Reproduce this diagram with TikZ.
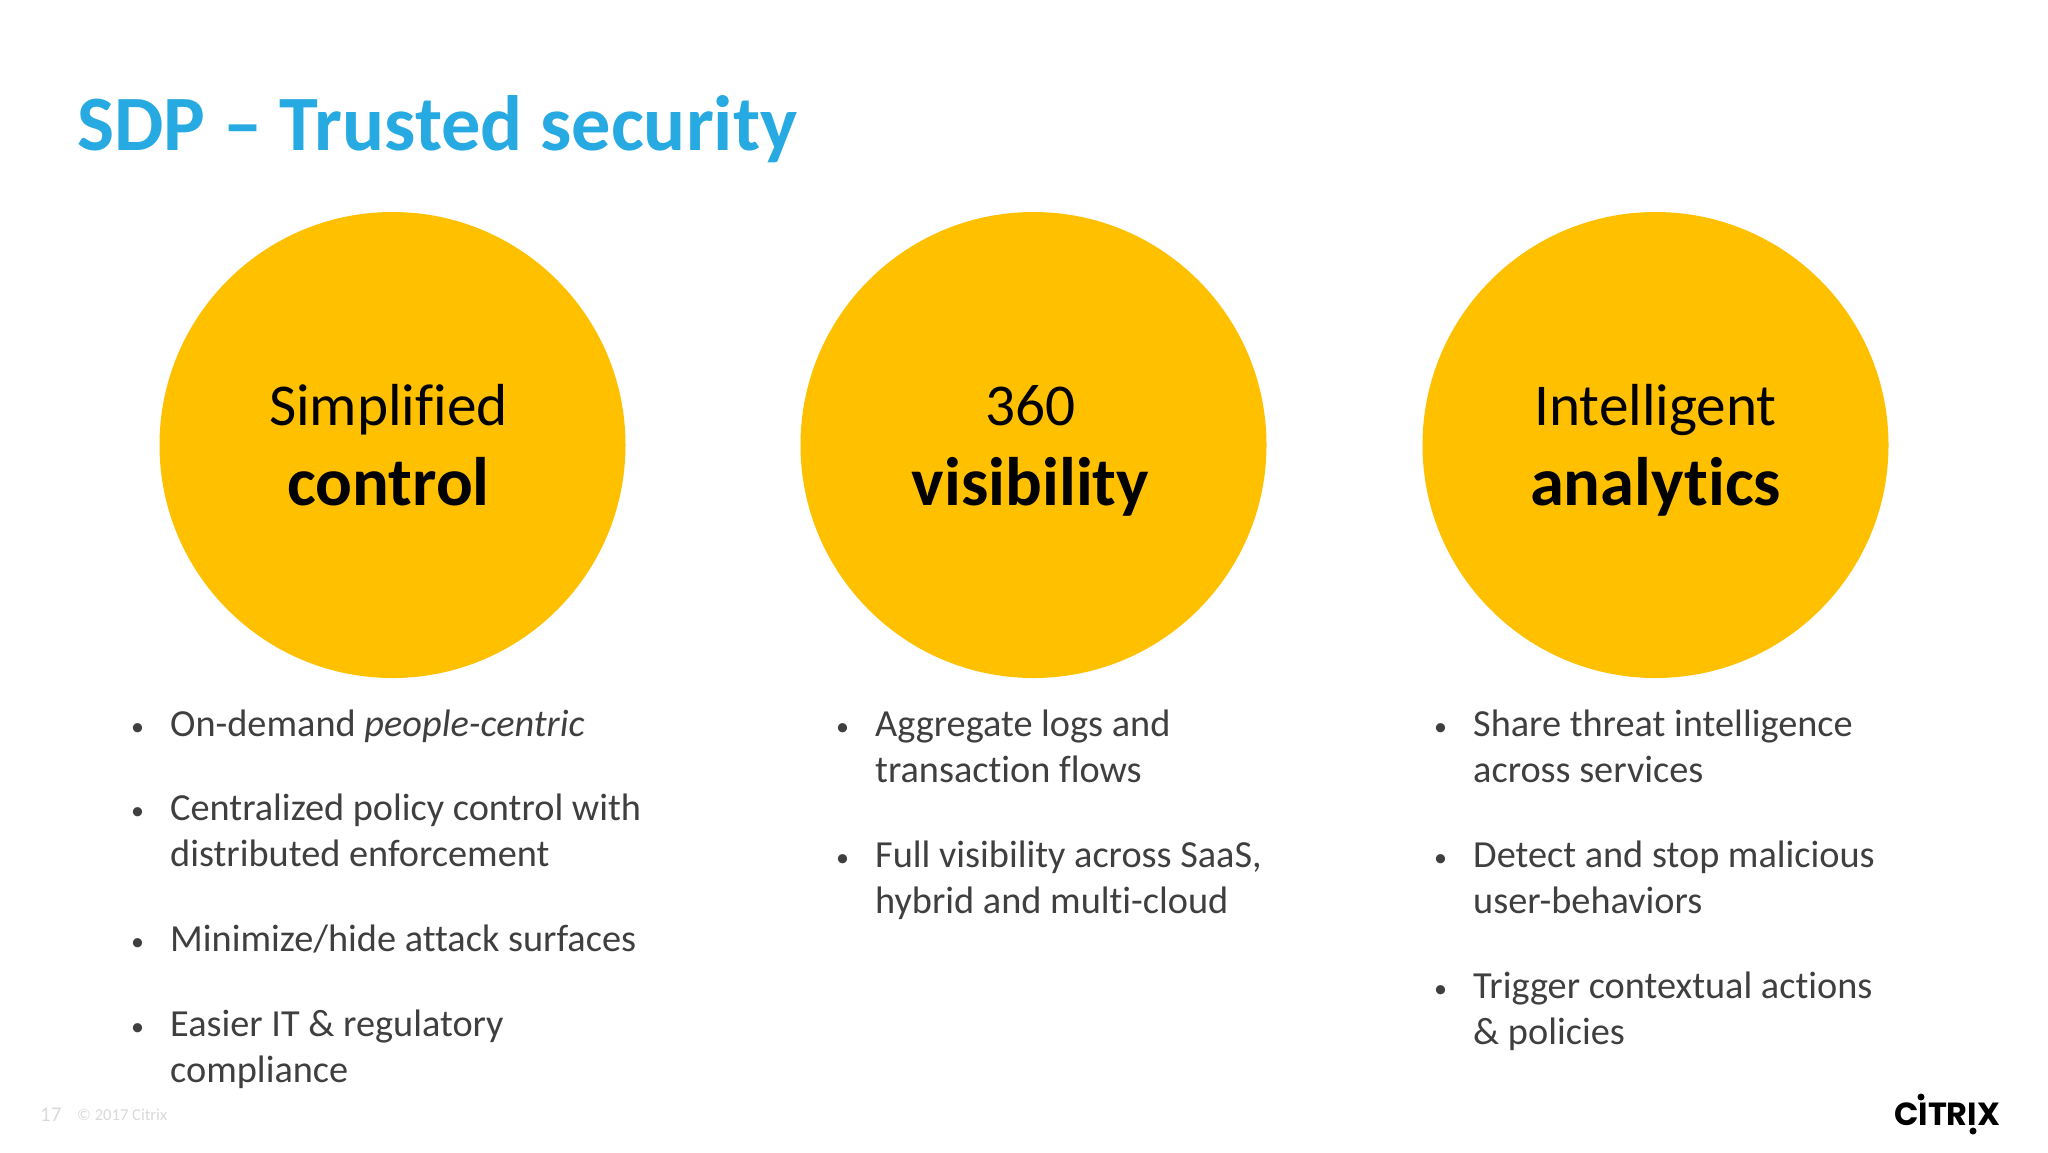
\documentclass[tikz,border=0pt]{standalone}
\usepackage{fontspec}
\setmainfont{Carlito}[Ligatures=NoCommon]
\newfontfamily\logofont{Poppins}
\usetikzlibrary{positioning}
\definecolor{titleblue}{HTML}{27A9E1}
\definecolor{gold}{HTML}{FFC000}
\definecolor{bodygray}{HTML}{3F3F3F}
\definecolor{footgray}{HTML}{D9D9D9}
\newcommand{\dotbox}{\makebox[39pt][l]{\raisebox{1pt}{\fontsize{26}{26}\selectfont •}}}
\newcommand{\nodot}{\hspace*{39pt}}
\tikzset{
    goldcircle/.style = {circle, fill=gold, minimum size=466pt, inner sep=0pt},
    lighttext/.style = {anchor=base, inner sep=0pt, font=\fontsize{59.3}{59}\selectfont},
    boldtext/.style = {anchor=base, inner sep=0pt, font=\fontsize{68.6}{69}\selectfont\bfseries},
    itemtext/.style = {anchor=north west, align=left, inner sep=0pt, text=bodygray, font=\fontsize{38.3}{46}\selectfont},
    footnum/.style = {anchor=base west, inner sep=0pt, text=footgray}
}
\begin{document}
\begin{tikzpicture}[x=1pt,y=-1pt]
        \useasboundingbox (0,0) rectangle (2048,1152);
        \node[anchor=base west, inner sep=0pt, text=titleblue, font=\fontsize{78.4}{78}\selectfont\bfseries] (title) at (77,150) {SDP -- Trusted security};

        \node[goldcircle] (control) at (392.5,445) {};
        \node[goldcircle] (visibility) at (1033.5,445) {};
        \node[goldcircle] (analytics) at (1655.5,445) {};

        \node[lighttext] (controltop) at ([xshift=-4pt,yshift=20pt]control.center) {Simplified};
        \node[boldtext] (controlbottom) at ([xshift=-4pt,yshift=-60pt]control.center) {control};
        \node[lighttext] (visibilitytop) at ([xshift=-3pt,yshift=20pt]visibility.center) {360};
        \node[boldtext] (visibilitybottom) at ([xshift=-3pt,yshift=-60pt]visibility.center) {visibility};
        \node[lighttext] (analyticstop) at ([yshift=20pt]analytics.center) {Intelligent};
        \node[boldtext] (analyticsbottom) at ([yshift=-60pt]analytics.center) {analytics};

        \node[itemtext] (a1) at (131,710) {\dotbox On-demand \textit{people-centric}};
        \node[itemtext] (a2) at (131,794) {\dotbox Centralized policy control with\\\nodot distributed enforcement};
        \node[itemtext] (a3) at (131,925) {\dotbox Minimize/hide attack surfaces};
        \node[itemtext] (a4) at (131,1010) {\dotbox Easier IT \& regulatory\\\nodot compliance};

        \node[itemtext] (b1) at (836,710) {\dotbox Aggregate logs and\\\nodot transaction flows};
        \node[itemtext] (b2) at (836,841) {\dotbox Full visibility across SaaS,\\\nodot hybrid and multi-cloud};

        \node[itemtext] (c1) at (1434,710) {\dotbox Share threat intelligence\\\nodot across services};
        \node[itemtext] (c2) at (1434,841) {\dotbox Detect and stop malicious\\\nodot user-behaviors};
        \node[itemtext] (c3) at (1434,972) {\dotbox Trigger contextual actions\\\nodot \& policies};

        \node[footnum, font=\fontsize{21}{21}\selectfont] (pagenum) at (40,1121) {17};
        \node[footnum, font=\fontsize{16.6}{17}\selectfont] (copyright) at (77,1120) {© 2017 Citrix};

        \node[anchor=base west, inner sep=0pt, font=\fontsize{32}{32}\selectfont\logofont\bfseries] (logo) at (1894,1125) {CITRIX};
        \fill (1921,1097) circle (3.5);
        \fill (1973,1131) circle (3.5);
    \end{tikzpicture}
\end{document}
